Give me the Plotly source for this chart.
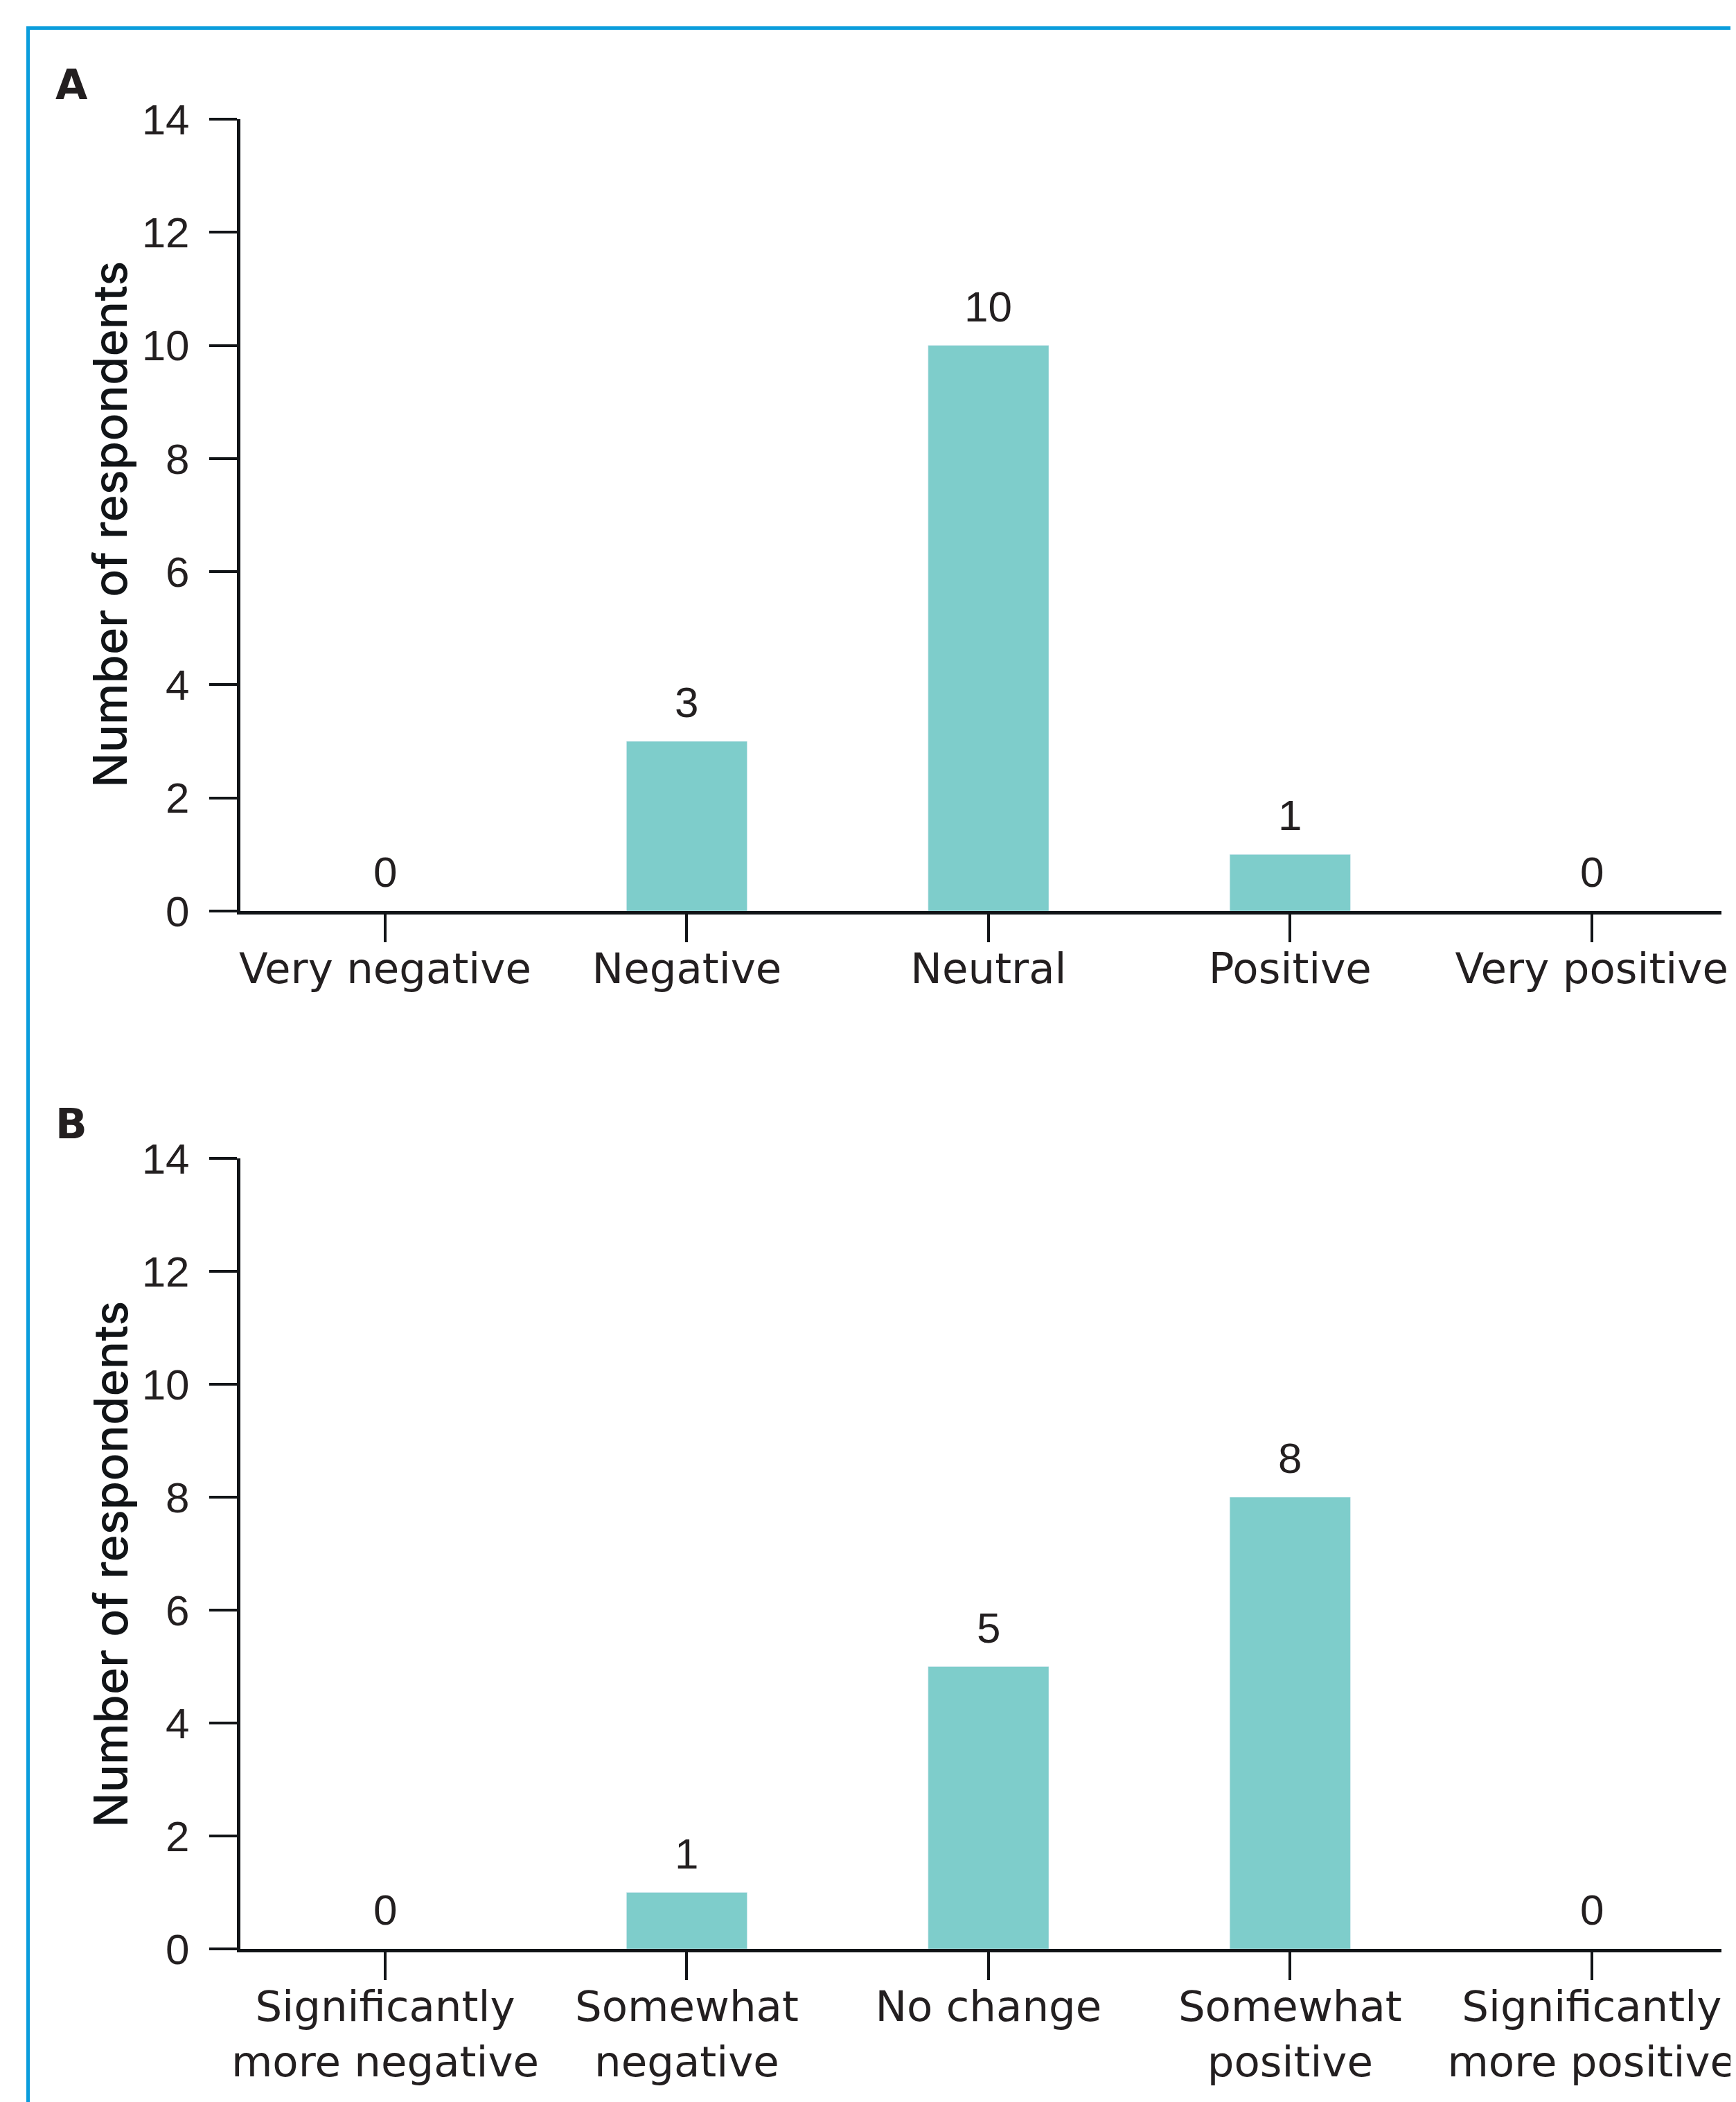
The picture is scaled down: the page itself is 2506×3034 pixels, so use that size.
import plotly.graph_objects as go

W, H = 2506, 3034
OFF = 8  # page body margin
FW, FH = W - OFF, H - OFF

cats_a = ["Very negative", "Negative", "Neutral", "Positive", "Very positive"]
vals_a = [0, 3, 10, 1, 0]

cats_b = ["Significantly<br>more negative", "Somewhat<br>negative", "No change",
          "Somewhat<br>positive", "Significantly<br>more positive"]
vals_b = [0, 1, 5, 8, 0]

y_ticks = [0, 2, 4, 6, 8, 10, 12, 14]
y_title = "Number of respondents"
panel_labels = ["A", "B"]

BAR = "#7ECDCB"
TXT = "#231F20"
AX = "#111417"
BLUE = "#0A9DDC"
FONT = "DejaVu Sans"
NUMFONT = "Liberation Sans"
FS = 61

def px_x(p):
    return (p - OFF) / FW

def px_y(p):
    return 1 - (p - OFF) / FH

fig = go.Figure()
fig.add_trace(go.Bar(x=cats_a, y=vals_a, marker_color=BAR, width=0.4,
                     xaxis="x", yaxis="y", showlegend=False, hoverinfo="skip"))
fig.add_trace(go.Bar(x=cats_b, y=vals_b, marker_color=BAR, width=0.4,
                     xaxis="x2", yaxis="y2", showlegend=False, hoverinfo="skip"))

annotations = []
for cats, vals, xr, yr in [(cats_a, vals_a, "x", "y"), (cats_b, vals_b, "x2", "y2")]:
    for c, v in zip(cats, vals):
        annotations.append(dict(x=c, y=v, xref=xr, yref=yr, text=str(v),
                                showarrow=False, yanchor="bottom", yshift=20,
                                font=dict(family=NUMFONT, size=62, color=TXT)))

for lab, cy, ty in zip(panel_labels, [122, 1622], [757, 2258]):
    annotations.append(dict(x=px_x(78), y=px_y(cy), xref="paper", yref="paper",
                            text=f"<b>{lab}</b>", showarrow=False,
                            xanchor="left", yanchor="middle",
                            font=dict(family=FONT, size=60, color=TXT)))
    annotations.append(dict(x=px_x(159), y=px_y(ty), xref="paper", yref="paper",
                            text=y_title, showarrow=False, textangle=-90,
                            xanchor="center", yanchor="middle",
                            font=dict(family="Inter", size=67, weight=500,
                                      color="#111417")))

xaxis_common = dict(type="category", range=[-0.48, 4.43], showline=True,
                    linecolor=AX, linewidth=5, ticks="outside", ticklen=40,
                    tickwidth=4, tickcolor=AX, showgrid=False, zeroline=False,
                    tickfont=dict(family=FONT, size=FS, color=TXT),
                    ticklabelstandoff=-14, automargin=False, fixedrange=True)
yaxis_common = dict(range=[0, 14], tickvals=y_ticks, showline=True,
                    linecolor=AX, linewidth=5, ticks="outside", ticklen=40,
                    tickwidth=4, tickcolor=AX, showgrid=False, zeroline=False,
                    tickfont=dict(family=NUMFONT, size=62, color=TXT),
                    ticklabelstandoff=16, automargin=False, fixedrange=True)

bx = 40.5 - OFF
by = 40.5 - OFF

fig.update_layout(
    width=FW, height=FH,
    margin=dict(l=0, r=0, t=0, b=0),
    paper_bgcolor="white", plot_bgcolor="white",
    xaxis=dict(domain=[px_x(347), px_x(2485)], anchor="y", **xaxis_common),
    yaxis=dict(domain=[px_y(1315), px_y(172)], anchor="x", **yaxis_common),
    xaxis2=dict(domain=[px_x(347), px_x(2485)], anchor="y2", **xaxis_common),
    yaxis2=dict(domain=[px_y(2813), px_y(1672)], anchor="x2", **yaxis_common),
    annotations=annotations,
    shapes=[
        dict(type="path", xref="paper", yref="paper", xsizemode="pixel",
             ysizemode="pixel", xanchor=0, yanchor=1,
             path=f"M {bx},{-(FH + 20)} L {bx},{-by} L {FW - 2},{-by}",
             line=dict(color=BLUE, width=5)),
    ],
    bargap=0.6,
)

fig.write_html("out.html")
